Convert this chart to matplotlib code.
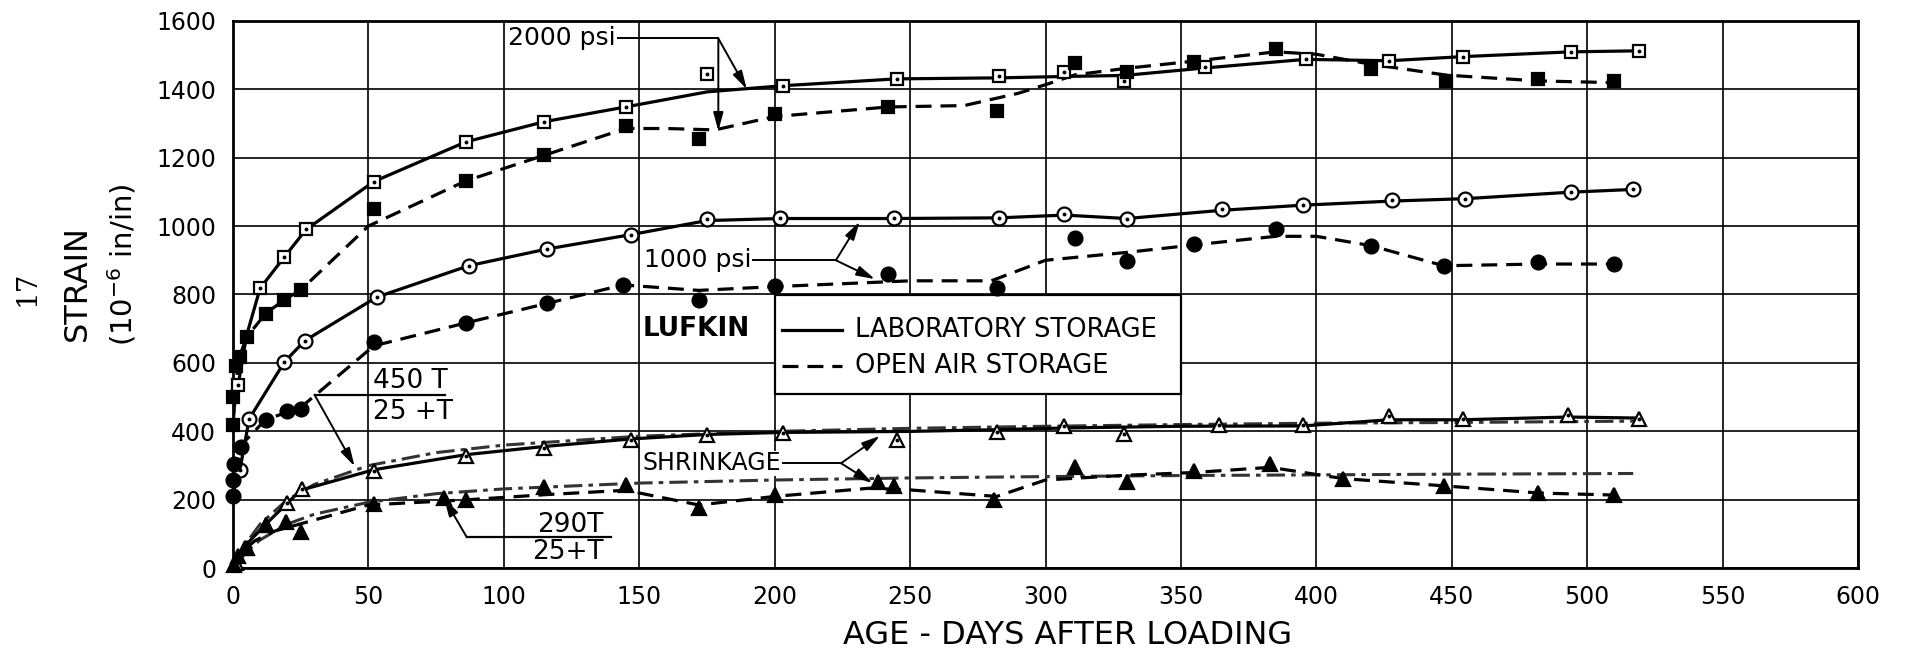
import matplotlib
matplotlib.use("Agg")
import matplotlib.pyplot as plt
from matplotlib.patches import Rectangle

# ---- data (days after loading, strain 10^-6 in/in) ----
# 2000 psi, laboratory storage (open squares)
lab2000_x = [2, 10, 19, 27, 52, 86, 115, 145, 175, 203, 245, 283, 307, 329, 359, 396, 427, 454, 494, 519]
lab2000_y = [535, 818, 910, 990, 1130, 1246, 1305, 1348, 1445, 1410, 1430, 1439, 1449, 1425, 1466, 1489, 1481, 1495, 1509, 1512]
lab2000_cx = [0, 2, 5, 10, 19, 27, 52, 86, 115, 145, 175, 203, 245, 283, 307, 329, 359, 396, 427, 454, 494, 519]
lab2000_cy = [450, 540, 680, 818, 910, 990, 1130, 1246, 1305, 1348, 1392, 1410, 1430, 1433, 1437, 1440, 1462, 1487, 1483, 1495, 1509, 1512]

# 2000 psi, open air storage (filled squares)
air2000_x = [0, 0, 1, 2.5, 5, 12, 19, 25, 52, 86, 115, 145, 172, 200, 242, 282, 311, 330, 355, 385, 420, 448, 482, 510]
air2000_y = [420, 500, 590, 616, 675, 744, 785, 813, 1050, 1132, 1207, 1293, 1254, 1327, 1348, 1335, 1476, 1451, 1478, 1516, 1458, 1424, 1429, 1424]
air2000_cx = [0, 2, 5, 12, 19, 25, 50, 86, 115, 145, 160, 178, 200, 242, 270, 290, 300, 311, 330, 355, 385, 400, 420, 448, 482, 510]
air2000_cy = [420, 610, 675, 744, 785, 813, 1000, 1132, 1207, 1285, 1285, 1281, 1320, 1348, 1352, 1388, 1413, 1442, 1461, 1482, 1509, 1502, 1473, 1441, 1424, 1419]

# 1000 psi, laboratory storage (open circles)
lab1000_x = [2.5, 6, 19, 26.5, 53, 87, 116, 147, 175, 202, 244, 283, 307, 330, 365, 395, 428, 455, 494, 517]
lab1000_y = [286, 437, 603, 665, 792, 884, 933, 975, 1021, 1024, 1024, 1024, 1036, 1021, 1049, 1061, 1075, 1080, 1099, 1107]
lab1000_cx = [0, 2.5, 6, 19, 26.5, 53, 87, 116, 147, 175, 202, 244, 283, 307, 330, 365, 395, 428, 455, 494, 517]
lab1000_cy = [230, 286, 437, 603, 665, 792, 884, 933, 975, 1016, 1022, 1022, 1024, 1032, 1022, 1046, 1061, 1073, 1080, 1099, 1107]

# 1000 psi, open air storage (filled circles)
air1000_x = [0, 0, 0.5, 3, 12, 20, 25, 52, 86, 116, 144, 172, 200, 242, 282, 311, 330, 355, 385, 420, 447, 482, 510]
air1000_y = [210, 258, 305, 355, 434, 461, 466, 661, 717, 774, 829, 785, 826, 860, 819, 965, 897, 948, 991, 943, 884, 894, 889]
air1000_cx = [0, 3, 12, 25, 52, 86, 116, 144, 172, 200, 250, 280, 290, 300, 330, 355, 385, 400, 420, 447, 482, 510]
air1000_cy = [205, 360, 434, 470, 650, 717, 774, 828, 812, 823, 840, 840, 870, 900, 923, 945, 970, 970, 943, 884, 889, 889]

# shrinkage, laboratory storage (open triangles)
labshr_x = [1, 4.5, 12, 20, 25.5, 52, 86, 115, 147, 175, 203, 245, 282, 307, 329, 364, 395, 427, 454, 493, 519]
labshr_y = [15, 58, 126, 190, 231, 284, 328, 351, 376, 390, 395, 376, 397, 416, 393, 419, 419, 446, 437, 447, 436]
labshr_cx = [0, 5, 12, 20, 25, 52, 86, 115, 147, 175, 203, 250, 282, 307, 350, 395, 427, 454, 493, 519]
labshr_cy = [10, 70, 128, 190, 228, 288, 332, 356, 378, 391, 397, 400, 405, 410, 415, 416, 434, 434, 442, 439]

# shrinkage, open air storage (filled triangles)
airshr_x = [0.5, 2, 5, 12, 19.5, 25, 52, 78, 86, 115, 145, 172, 200, 238, 244, 281, 311, 330, 355, 383, 410, 447, 482, 510]
airshr_y = [10, 35, 60, 127, 135, 105, 188, 205, 200, 239, 242, 176, 215, 252, 240, 200, 297, 253, 283, 305, 260, 241, 219, 215]
airshr_cx = [0, 3, 8, 15, 25, 50, 86, 115, 145, 172, 200, 235, 250, 282, 300, 330, 355, 383, 410, 447, 482, 510]
airshr_cy = [5, 45, 80, 108, 130, 185, 200, 215, 228, 185, 210, 234, 229, 210, 258, 272, 280, 295, 262, 241, 220, 214]

# curves 450T/(25+T) and 290T/(25+T) as drawn
f450_x = [0, 5, 10, 20, 30, 50, 75, 100, 150, 200, 250, 300, 350, 400, 450, 518]
f450_y = [0, 75, 129, 200, 245, 300, 338, 360, 386, 400, 409, 415, 420, 424, 426, 430]
f290_x = [0, 5, 10, 20, 30, 50, 75, 100, 150, 200, 250, 300, 350, 400, 450, 517]
f290_y = [0, 48, 83, 129, 158, 193, 218, 232, 249, 258, 264, 268, 271, 273, 275, 277]

x_ticks = list(range(0, 601, 50))
y_ticks = list(range(0, 1601, 200))

DASH = (0, (5, 2.8))
DASHDOT = (0, (6, 2, 1.5, 2))

fig = plt.figure(figsize=(19.1, 6.54), dpi=100)
ax = fig.add_axes([233 / 1910, 1 - 568.3 / 654, 1625 / 1910, 547.6 / 654])
ax.set_xlim(0, 600)
ax.set_ylim(0, 1600)
ax.set_xticks(x_ticks)
ax.set_yticks(y_ticks)
ax.tick_params(length=0, labelsize=17, pad=12)
ax.grid(True, color="black", lw=1.2)
ax.set_axisbelow(True)
for s in ax.spines.values():
    s.set_linewidth(2)


def series(x, y, cx, cy, marker, filled, ls, ms=9):
    ax.plot(cx, cy, color="black", lw=2.3, linestyle=ls, zorder=3)
    ax.plot(x, y, linestyle="none", marker=marker, ms=ms,
            mfc="black" if filled else "white", mec="black", mew=1.6,
            zorder=4, clip_on=False)
    if not filled:
        ax.plot(x, y, linestyle="none", marker="o", ms=1.8, color="black",
                zorder=5, clip_on=False)


ax.plot(f450_x, f450_y, color="#333333", lw=2.2, linestyle=DASHDOT, zorder=3)
ax.plot(f290_x, f290_y, color="#333333", lw=2.2, linestyle=DASHDOT, zorder=3)

series(lab2000_x, lab2000_y, lab2000_cx, lab2000_cy, "s", False, "-")
series(air2000_x, air2000_y, air2000_cx, air2000_cy, "s", True, DASH)
series(lab1000_x, lab1000_y, lab1000_cx, lab1000_cy, "o", False, "-", 10)
series(air1000_x, air1000_y, air1000_cx, air1000_cy, "o", True, DASH, 10)
series(labshr_x, labshr_y, labshr_cx, labshr_cy, "^", False, "-", 10)
series(airshr_x, airshr_y, airshr_cx, airshr_cy, "^", True, DASH, 10)

# legend box
ax.add_patch(Rectangle((200, 510), 150, 290, facecolor="white", edgecolor="black", lw=1.6, zorder=2.5))
ax.plot([202.6, 224.9], [696, 696], color="black", lw=2.3, zorder=3)
ax.plot([202.6, 224.9], [592, 592], color="black", lw=2.3, linestyle=DASH, zorder=3)
ax.text(229.8, 696, "LABORATORY STORAGE", fontsize=18.5, ha="left", va="center", zorder=4)
ax.text(229.8, 592, "OPEN AIR STORAGE", fontsize=18.5, ha="left", va="center", zorder=4)
ax.text(151.3, 700, "LUFKIN", fontsize=19, fontweight="bold", ha="left", va="center", zorder=4)

arrow = dict(arrowstyle="-|>,head_length=1.1,head_width=0.3", color="black", lw=1.4,
             shrinkA=0, shrinkB=0)


def pointer(label, tx, ty, corner_x, targets, size=18):
    ax.text(tx, ty, label, fontsize=size, ha="left", va="center", zorder=6,
            bbox=dict(facecolor="white", edgecolor="none", pad=0.5))
    ax.plot([tx + 0.1, corner_x], [ty, ty], color="black", lw=1.4, zorder=5)
    for px, py in targets:
        ax.annotate("", xy=(px, py), xytext=(corner_x, ty), arrowprops=arrow, zorder=6)


pointer("2000 psi", 101.7, 1548, 179.2, [(179.2, 1278), (189.7, 1400)])
pointer("1000 psi", 151.7, 900, 222.6, [(231.4, 1013), (237, 845)])
pointer("SHRINKAGE", 151.1, 307, 224.5, [(238.9, 387), (236.1, 249)], size=17)

# formula labels
ax.text(51.7, 546, "450 T", fontsize=19, ha="left", va="center", zorder=6)
ax.text(51.7, 458, "25 +T", fontsize=19, ha="left", va="center", zorder=6)
ax.plot([30.1, 78.3], [507, 507], color="black", lw=1.6, zorder=6)
ax.annotate("", xy=(44.9, 298), xytext=(30.1, 507), arrowprops=arrow, zorder=6)

ax.text(112.2, 127, "290T", fontsize=19, ha="left", va="center", zorder=6)
ax.text(110.5, 49, "25+T", fontsize=19, ha="left", va="center", zorder=6)
ax.plot([86.3, 139.4], [91, 91], color="black", lw=1.6, zorder=6)
ax.annotate("", xy=(77.9, 205), xytext=(86.3, 91), arrowprops=arrow, zorder=6)

# axis titles
fig.text(1068 / 1910, 1 - 635 / 654, "AGE - DAYS AFTER LOADING", fontsize=23,
         ha="center", va="center")
fig.text(77 / 1910, 1 - 283 / 654, "STRAIN", fontsize=23, rotation=90,
         ha="center", va="center")
fig.text(122 / 1910, 1 - 265 / 654, "(10$^{-6}$ in/in)", fontsize=21, rotation=90,
         ha="center", va="center")
fig.text(27 / 1910, 1 - 288 / 654, "17", fontsize=20, rotation=90,
         ha="center", va="center", family="DejaVu Serif")

fig.savefig("out.png", dpi=100)
